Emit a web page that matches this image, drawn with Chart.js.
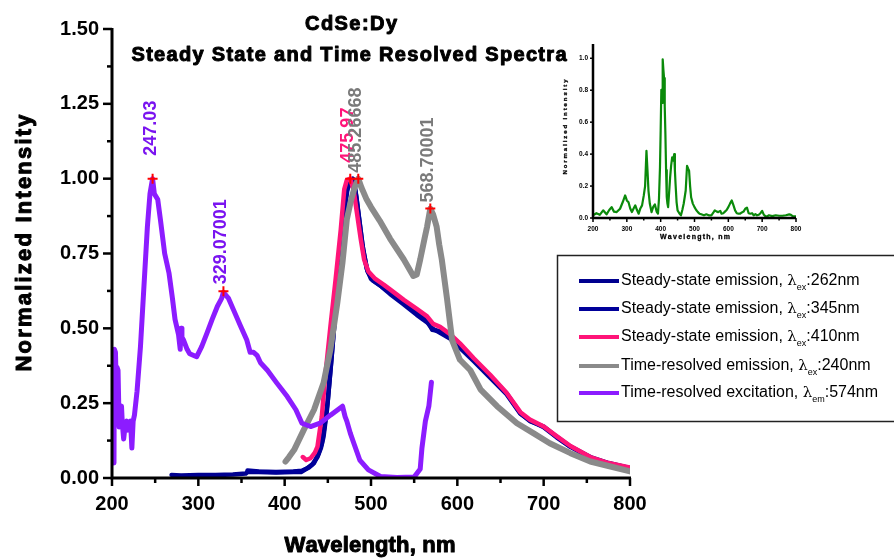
<!DOCTYPE html>
<html><head><meta charset="utf-8">
<script src="https://cdn.jsdelivr.net/npm/chart.js@4.4.1/dist/chart.umd.min.js"></script>
<style>
html,body{margin:0;padding:0;background:#fff;}
#wrap{position:relative;width:894px;height:559px;overflow:hidden;background:#fff;}
#main{position:absolute;left:0;top:0;}
#inset{position:absolute;left:540px;top:35px;}
</style></head><body>
<div id="wrap"><canvas id="main" width="894" height="559"></canvas><canvas id="inset" width="270" height="215"></canvas></div>
<script>
// ---------------- DATA ----------------
const xTicks = [200,300,400,500,600,700,800];
const yTicks = [0,0.25,0.5,0.75,1.0,1.25,1.5];
const insetXTicks = [200,300,400,500,600,700,800];
const insetYTicks = [0,0.2,0.4,0.6,0.8,1.0];

const seriesNames = [
  'Steady-state emission, λex:262nm',
  'Steady-state emission, λex:345nm',
  'Steady-state emission, λex:410nm',
  'Time-resolved emission, λex:240nm',
  'Time-resolved excitation, λem:574nm'
];
const legendMain = ['Steady-state emission, ','Steady-state emission, ','Steady-state emission, ','Time-resolved emission, ','Time-resolved excitation, '];
const legendSub = ['ex','ex','ex','ex','em'];
const legendTail = [':262nm',':345nm',':410nm',':240nm',':574nm'];

const ss262Wl = [269,280,300,320,340,355,357,370,390,410,419,426,432,438,442,445,449,453,457,461,465,469,472,476,479,482,486,490,495,500,510,522,538,553,565,571,580,592,603,619,638,657,673,684,700,715,731,754,775,800];
const ss262Val = [0.01,0.008,0.01,0.01,0.012,0.015,0.02,0.02,0.018,0.02,0.02,0.032,0.045,0.07,0.10,0.138,0.228,0.36,0.495,0.64,0.786,0.897,0.96,0.99,1.0,0.96,0.87,0.78,0.70,0.665,0.645,0.62,0.585,0.55,0.525,0.495,0.49,0.47,0.44,0.395,0.34,0.283,0.216,0.19,0.172,0.138,0.105,0.07,0.05,0.033];

const ss345Wl = [357,370,390,410,420,428,434,439,443,446,450,454,458,462,466,470,473,477,480,483,487,491,496,502,512,522,538,553,565,571,580,592,603,619,638,657,673,684,700,715,731,754,775,800];
const ss345Val = [0.025,0.022,0.02,0.022,0.024,0.035,0.05,0.08,0.115,0.17,0.26,0.39,0.53,0.67,0.80,0.91,0.97,0.995,0.99,0.94,0.85,0.76,0.69,0.66,0.64,0.615,0.58,0.545,0.52,0.50,0.485,0.465,0.435,0.39,0.335,0.28,0.215,0.192,0.17,0.136,0.104,0.068,0.049,0.032];

const ss410Wl = [421,425,430,435,438,443,447,453,459,465,469,472,476,480,484,488,492,497,505,515,522,538,553,565,572,580,592,603,619,638,657,673,684,700,715,731,754,775,800];
const ss410Val = [0.07,0.06,0.066,0.085,0.105,0.205,0.34,0.506,0.663,0.83,0.964,0.995,1.0,0.96,0.88,0.80,0.73,0.69,0.665,0.645,0.63,0.595,0.565,0.54,0.515,0.505,0.48,0.45,0.40,0.345,0.285,0.22,0.195,0.172,0.14,0.107,0.07,0.05,0.035];

const tr240Wl = [401,405,411,422,434,445,453,461,467,472,477,481,485.3,489,495,500,510,522,538,549,553,557,562,565,568.7,572,576,579,582,588,594,603,615,627,646,669,688,707,731,754,775,800];
const tr240Val = [0.055,0.07,0.094,0.16,0.228,0.317,0.43,0.585,0.72,0.864,0.93,0.97,1.0,0.97,0.93,0.905,0.86,0.80,0.73,0.675,0.68,0.73,0.80,0.84,0.90,0.88,0.84,0.78,0.73,0.60,0.46,0.395,0.36,0.295,0.24,0.183,0.15,0.116,0.083,0.055,0.04,0.022];

const excWl = [202.3,202.8,204,205,205.8,207,208.3,209.5,211,212,213.5,215,217,218.5,220,221.5,223,224.5,226,229,233,237,241,244,247,249,253,256,261,266,270,273,277,279,280,281,283,287,290,294,298,304,310,316,322,327,329,335,341,349,356,360,364,368,372,380,391,403,413,420,430,441,453,460,467,470,472,476,480,487,497,511,530,550,557,559,563,567,570];
const excVal = [0.05,0.43,0.42,0.30,0.37,0.36,0.17,0.22,0.24,0.18,0.13,0.17,0.19,0.16,0.17,0.19,0.10,0.19,0.21,0.29,0.44,0.64,0.84,0.95,1.0,0.95,0.93,0.865,0.75,0.685,0.60,0.53,0.48,0.43,0.50,0.47,0.46,0.43,0.415,0.41,0.405,0.44,0.484,0.53,0.573,0.60,0.62,0.60,0.56,0.507,0.462,0.42,0.42,0.41,0.385,0.36,0.317,0.272,0.228,0.183,0.172,0.183,0.21,0.225,0.24,0.205,0.19,0.15,0.117,0.06,0.027,0.005,0.002,0.003,0.03,0.10,0.19,0.24,0.32];

const peakWl = [247.03,329.07001,475.97,485.26668,568.70001];
const peakVal = [1.0,0.624,1.0,1.0,0.90];
const peakText = ['247.03','329.07001','475.97','485.26668','568.70001'];
const peakSeries = [4,4,2,3,3];

const insetWl = [200,210,220,230,240,248,255,262,270,280,288,295,300,305,310,315,320,325,330,335,340,345,350,354,358,361,364,368,373,378,383,388,392,395,398,400,402,404,406,408,410,412,414,416,418,420,422,425,428,431,434,437,440,442,444,447,450,455,460,464,468,471,474,476,478,481,484,487,490,495,500,505,510,515,520,528,535,542,550,556,560,566,570,576,580,585,590,595,600,605,610,615,620,625,630,635,640,645,650,655,660,665,670,675,680,685,690,695,700,705,710,715,720,730,740,750,760,770,780,785,790,800];
const insetVal = [0.017,0.03,0.02,0.048,0.023,0.05,0.068,0.04,0.037,0.058,0.10,0.141,0.11,0.099,0.06,0.037,0.06,0.079,0.05,0.027,0.06,0.079,0.14,0.20,0.42,0.30,0.17,0.089,0.037,0.07,0.085,0.04,0.027,0.12,0.317,0.55,0.803,0.72,0.994,0.93,0.876,0.70,0.524,0.30,0.13,0.09,0.068,0.16,0.255,0.33,0.379,0.36,0.40,0.30,0.213,0.10,0.048,0.03,0.017,0.05,0.089,0.13,0.172,0.25,0.327,0.31,0.296,0.20,0.13,0.09,0.068,0.05,0.037,0.027,0.023,0.017,0.023,0.017,0.017,0.035,0.048,0.04,0.037,0.045,0.027,0.03,0.04,0.05,0.068,0.09,0.11,0.08,0.048,0.03,0.027,0.027,0.035,0.04,0.058,0.065,0.03,0.027,0.03,0.017,0.025,0.017,0.02,0.03,0.045,0.02,0.01,0.01,0.017,0.012,0.017,0.014,0.014,0.017,0.023,0.02,0.012,0.01];

// ---------------- STYLE ----------------
const FONT = '"Liberation Sans", Arial, Helvetica, sans-serif';
const colors = ['#00008f','#000099','#ff1478','#8a8a8a','#8c1cff'];
const labelColors = ['#00008f','#000099','#ff1478','#7a7a7a','#7a14f0'];
const widths = [4.5,4.5,4.5,6,5];
const orders = [4,3,2,1,0];
const peakGap = [23,7,16,6,6];

const wl = [ss262Wl, ss345Wl, ss410Wl, tr240Wl, excWl];
const vals = [ss262Val, ss345Val, ss410Val, tr240Val, excVal];

function pts(xs, ys){ return xs.map((v,i)=>({x:v, y:ys[i]})); }

function drawFit(ctx, text, cx, cy, target, font, color, rot, stroke){
  ctx.save();
  ctx.font = font; ctx.fillStyle = color; ctx.strokeStyle = color;
  ctx.textBaseline = 'middle'; ctx.textAlign = 'left';
  const chars = Array.from(text);
  const cw = chars.map(c=>ctx.measureText(c).width);
  const sum = cw.reduce((a,b)=>a+b,0);
  const sp = chars.length>1 ? (target - sum)/(chars.length-1) : 0;
  ctx.translate(cx, cy); if (rot) ctx.rotate(rot);
  let x = -target/2;
  chars.forEach((c,i)=>{
    ctx.fillText(c, x, 0);
    if (stroke){ ctx.lineWidth = stroke; ctx.lineJoin = 'round'; ctx.strokeText(c, x, 0); }
    x += cw[i] + sp;
  });
  ctx.restore();
}

const mainDecor = {
  id: 'mainDecor',
  afterDatasetsDraw(chart){
    const {ctx, chartArea: ca} = chart;
    const xs = chart.scales.x, ys = chart.scales.y;
    ctx.save();
    ctx.strokeStyle = '#000'; ctx.lineWidth = 3;
    ctx.beginPath();
    ctx.moveTo(ca.left, ca.top - 1); ctx.lineTo(ca.left, ca.bottom);
    ctx.lineTo(ca.right + 1, ca.bottom);
    ctx.stroke();
    ctx.lineWidth = 2.5;
    yTicks.forEach((v,i)=>{
      const p = ys.getPixelForValue(v);
      ctx.beginPath(); ctx.moveTo(ca.left - 9, p); ctx.lineTo(ca.left, p); ctx.stroke();
      if (i < yTicks.length-1){
        const m = ys.getPixelForValue((v + yTicks[i+1])/2);
        ctx.beginPath(); ctx.moveTo(ca.left - 5, m); ctx.lineTo(ca.left, m); ctx.stroke();
      }
    });
    xTicks.forEach((v,i)=>{
      const p = xs.getPixelForValue(v);
      ctx.beginPath(); ctx.moveTo(p, ca.bottom); ctx.lineTo(p, ca.bottom + 8); ctx.stroke();
      if (i < xTicks.length-1){
        const m = xs.getPixelForValue((v + xTicks[i+1])/2);
        ctx.beginPath(); ctx.moveTo(m, ca.bottom); ctx.lineTo(m, ca.bottom + 5); ctx.stroke();
      }
    });
    peakWl.forEach((w,i)=>{
      const px = xs.getPixelForValue(w), py = ys.getPixelForValue(peakVal[i]);
      ctx.save();
      ctx.font = 'bold 18px ' + FONT;
      ctx.fillStyle = labelColors[peakSeries[i]];
      ctx.textAlign = 'left'; ctx.textBaseline = 'middle';
      ctx.translate(px - 2, py - peakGap[i]);
      ctx.rotate(-Math.PI/2);
      ctx.fillText(peakText[i], 0, 0);
      ctx.restore();
    });
    peakWl.forEach((w,i)=>{
      const px = xs.getPixelForValue(w), py = ys.getPixelForValue(peakVal[i]);
      ctx.strokeStyle = '#ff0000'; ctx.lineWidth = 2;
      ctx.beginPath(); ctx.moveTo(px-5, py); ctx.lineTo(px+5, py);
      ctx.moveTo(px, py-5); ctx.lineTo(px, py+5); ctx.stroke();
    });
    ctx.restore();
  },
  afterDraw(chart){
    const ctx = chart.ctx;
    drawFit(ctx, 'CdSe:Dy', 351, 24, 92, 'bold 20px ' + FONT, '#000', 0, 1);
    drawFit(ctx, 'Steady State and Time Resolved Spectra', 349, 55, 435, 'bold 20px ' + FONT, '#000', 0, 1);
    drawFit(ctx, 'Normalized Intensity', 25, 243, 257, 'bold 22px ' + FONT, '#000', -Math.PI/2, 1);
    drawFit(ctx, 'Wavelength, nm', 370, 546, 171, 'bold 22px ' + FONT, '#000', 0, 1);
    ctx.save();
    ctx.fillStyle = '#fff';
    ctx.fillRect(557, 255, 345, 167);
    ctx.strokeStyle = '#222'; ctx.lineWidth = 1.5;
    ctx.strokeRect(557.5, 255.5, 345, 166);
    const rowY = [281, 309, 337, 366, 393];
    seriesNames.forEach((n,i)=>{
      const y = rowY[i];
      ctx.strokeStyle = colors[i]; ctx.lineWidth = 4; ctx.lineCap = 'butt';
      ctx.beginPath(); ctx.moveTo(579, y); ctx.lineTo(619, y); ctx.stroke();
      ctx.fillStyle = '#000'; ctx.textBaseline = 'middle'; ctx.textAlign = 'left';
      ctx.font = '16px ' + FONT;
      let x = 621;
      ctx.fillText(legendMain[i], x, y); x += ctx.measureText(legendMain[i]).width;
      ctx.font = '15px "DejaVu Serif", serif';
      ctx.fillText('λ', x, y); x += ctx.measureText('λ').width;
      ctx.font = '9px ' + FONT;
      ctx.fillText(legendSub[i], x, y + 7); x += ctx.measureText(legendSub[i]).width;
      ctx.font = '16px ' + FONT;
      ctx.fillText(legendTail[i], x, y);
    });
    ctx.restore();
  }
};

const datasets = seriesNames.map((n,i)=>({
  label: n,
  data: pts(wl[i], vals[i]),
  borderColor: colors[i],
  backgroundColor: colors[i],
  borderWidth: widths[i],
  pointRadius: 0,
  tension: 0,
  fill: false,
  borderJoinStyle: 'round',
  borderCapStyle: 'round',
  order: orders[i]
}));

new Chart(document.getElementById('main'), {
  type: 'line',
  data: { datasets },
  options: {
    responsive: false, animation: false, devicePixelRatio: 1,
    layout: { padding: { left: 0, top: 29, right: 264, bottom: 0 } },
    plugins: { legend: { display: false }, title: { display: false }, tooltip: { enabled: false } },
    scales: {
      x: {
        type: 'linear', min: 200, max: 800,
        afterBuildTicks: s => { s.ticks = xTicks.map(v => ({ value: v })); },
        afterFit: s => { s.height = 81; },
        grid: { display: false, drawTicks: false },
        border: { display: false },
        ticks: { color: '#000', padding: 14, maxRotation: 0, autoSkip: false,
          font: { family: FONT, size: 20, weight: 'bold' }, callback: v => String(v) }
      },
      y: {
        type: 'linear', min: 0, max: 1.5,
        afterBuildTicks: s => { s.ticks = yTicks.map(v => ({ value: v })); },
        afterFit: s => { s.width = 112; },
        grid: { display: false, drawTicks: false },
        border: { display: false },
        ticks: { color: '#000', padding: 13, autoSkip: false,
          font: { family: FONT, size: 20, weight: 'bold' }, callback: v => Number(v).toFixed(2) }
      }
    }
  },
  plugins: [mainDecor]
});

const insetDecor = {
  id: 'insetDecor',
  afterDatasetsDraw(chart){
    const {ctx, chartArea: ca} = chart;
    const xs = chart.scales.x, ys = chart.scales.y;
    ctx.save();
    ctx.strokeStyle = '#000'; ctx.lineWidth = 2.5;
    ctx.beginPath(); ctx.moveTo(ca.left, ca.top); ctx.lineTo(ca.left, ca.bottom); ctx.lineTo(ca.right, ca.bottom); ctx.stroke();
    ctx.lineWidth = 1.5;
    insetYTicks.forEach(v=>{ const p = ys.getPixelForValue(v); ctx.beginPath(); ctx.moveTo(ca.left-3, p); ctx.lineTo(ca.left, p); ctx.stroke(); });
    insetXTicks.forEach((v,i)=>{ const p = xs.getPixelForValue(v); ctx.beginPath(); ctx.moveTo(p, ca.bottom); ctx.lineTo(p, ca.bottom+4); ctx.stroke();
      if (i < insetXTicks.length-1){ const m = xs.getPixelForValue((v+insetXTicks[i+1])/2); ctx.beginPath(); ctx.moveTo(m, ca.bottom); ctx.lineTo(m, ca.bottom+2.5); ctx.stroke(); } });
    ctx.restore();
    drawFit(ctx, 'Normalized Intensity', 25, 92, 95, 'bold 6px ' + FONT, '#000', -Math.PI/2, 0.3);
    drawFit(ctx, 'Wavelength, nm', 155, 202, 70, 'bold 7px ' + FONT, '#000', 0, 0.3);
  }
};

new Chart(document.getElementById('inset'), {
  type: 'line',
  data: { datasets: [{
    label: 'inset', data: pts(insetWl, insetVal),
    borderColor: '#0a8a0a', borderWidth: 2.2, pointRadius: 0, tension: 0, fill: false, borderJoinStyle: 'round'
  }]},
  options: {
    responsive: false, animation: false, devicePixelRatio: 1,
    layout: { padding: { left: 0, top: 8, right: 14, bottom: 0 } },
    plugins: { legend: { display: false }, title: { display: false }, tooltip: { enabled: false } },
    scales: {
      x: {
        type: 'linear', min: 200, max: 800,
        afterBuildTicks: s => { s.ticks = insetXTicks.map(v => ({ value: v })); },
        afterFit: s => { s.height = 32; },
        grid: { display: false, drawTicks: false }, border: { display: false },
        ticks: { color: '#000', padding: 7, maxRotation: 0, autoSkip: false,
          font: { family: FONT, size: 6.5, weight: 'bold' }, callback: v => String(v) }
      },
      y: {
        type: 'linear', min: 0, max: 1.09,
        afterBuildTicks: s => { s.ticks = insetYTicks.map(v => ({ value: v })); },
        afterFit: s => { s.width = 53; },
        grid: { display: false, drawTicks: false }, border: { display: false },
        ticks: { color: '#000', padding: 5, autoSkip: false,
          font: { family: FONT, size: 6.5, weight: 'bold' }, callback: v => Number(v).toFixed(1) }
      }
    }
  },
  plugins: [insetDecor]
});
</script>
</body></html>
